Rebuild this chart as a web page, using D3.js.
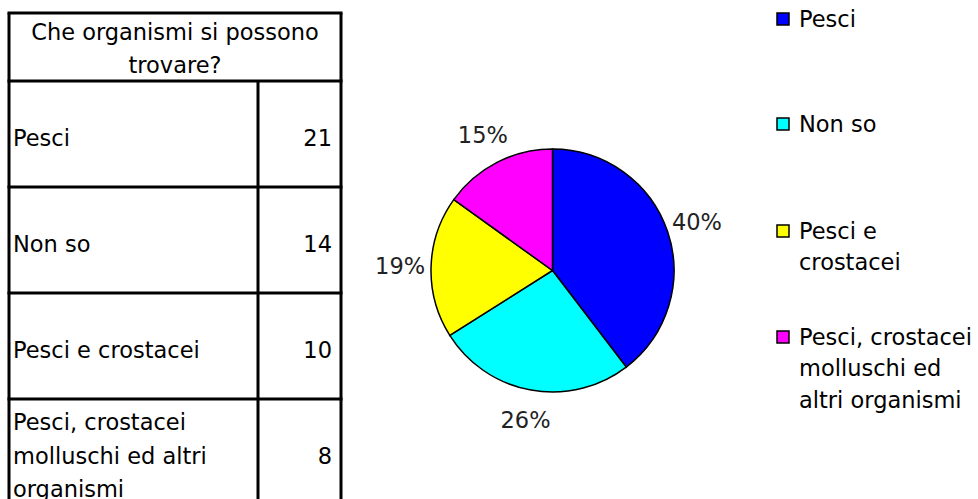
<!DOCTYPE html>
<html>
<head>
<meta charset="utf-8">
<script src="https://cdn.jsdelivr.net/npm/d3@7"></script>
<style>
  body { margin: 0; background: #fff; }
  svg text { font-family: "DejaVu Sans", sans-serif; fill: #000; }
</style>
</head>
<body>
<svg id="chart" width="978" height="499"></svg>
<script>
// data
const title = ["Che organismi si possono", "trovare?"];
const categories = ["Pesci", "Non so", "Pesci e crostacei", "Pesci, crostacei molluschi ed altri organismi"];
const values = [21, 14, 10, 8];
const colors = ["#0000ff", "#00ffff", "#ffff00", "#ff00ff"];
// how labels wrap in the table and in the legend
const tableLines = [["Pesci"], ["Non so"], ["Pesci e crostacei"], ["Pesci, crostacei", "molluschi ed altri", "organismi"]];
const legendLines = [["Pesci"], ["Non so"], ["Pesci e", "crostacei"], ["Pesci, crostacei", "molluschi ed", "altri organismi"]];

const svg = d3.select("#chart");
const fs = 22.5;

// ---- table ----
const tbl = svg.append("g");
const tx0 = 9, tx1 = 341, tdiv = 258, ty0 = 13, thead = 81, rowH = 106;

const rowY = d3.scaleBand().domain(categories).range([thead, thead + rowH * categories.length]);

// header text
tbl.selectAll("text.head").data(title).join("text")
  .attr("class", "head")
  .attr("x", (tx0 + tx1) / 2)
  .attr("y", (d, i) => 40 + i * 32.5)
  .attr("text-anchor", "middle")
  .style("font-size", fs + "px")
  .text(d => d);

// row text
categories.forEach((c, i) => {
  const lines = tableLines[i];
  const mid = rowY(c) + rowY.bandwidth() / 2 + 4;
  const lh = 33.5;
  const first = mid - (lines.length - 1) * lh / 2;
  tbl.selectAll(null).data(lines).join("text")
    .attr("x", 13)
    .attr("y", (d, j) => first + j * lh)
    .attr("dy", "0.35em")
    .style("font-size", fs + "px")
    .text(d => d);
  tbl.append("text")
    .attr("x", 332)
    .attr("y", mid)
    .attr("dy", "0.35em")
    .attr("text-anchor", "end")
    .style("font-size", fs + "px")
    .text(values[i]);
});

// grid lines
const lineStyle = sel => sel.attr("stroke", "#000").attr("stroke-width", 3);
const bottom = thead + rowH * categories.length;
tbl.append("line").attr("x1", tx0).attr("x2", tx0).attr("y1", ty0).attr("y2", bottom).call(lineStyle);
tbl.append("line").attr("x1", tx1).attr("x2", tx1).attr("y1", ty0).attr("y2", bottom).call(lineStyle);
tbl.append("line").attr("x1", tdiv).attr("x2", tdiv).attr("y1", thead).attr("y2", bottom).call(lineStyle);
tbl.append("line").attr("x1", tx0 - 1.5).attr("x2", tx1 + 1.5).attr("y1", ty0).attr("y2", ty0).call(lineStyle);
tbl.selectAll("line.row").data(categories).join("line")
  .attr("class", "row")
  .attr("x1", tx0 - 1.5).attr("x2", tx1 + 1.5)
  .attr("y1", d => rowY(d)).attr("y2", d => rowY(d))
  .call(lineStyle);

// ---- pie ----
const cx = 552.5, cy = 270.5, r = 121.5;
const pie = d3.pie().sort(null).value(d => d)(values);
const arc = d3.arc().innerRadius(0).outerRadius(r);
const total = d3.sum(values);

const pg = svg.append("g").attr("transform", `translate(${cx},${cy})`);
pg.selectAll("path").data(pie).join("path")
  .attr("d", arc)
  .attr("fill", (d, i) => colors[i])
  .attr("stroke", "#000")
  .attr("stroke-width", 1.5);

const labelArc = d3.arc().innerRadius(r + 31).outerRadius(r + 31);
pg.selectAll("text.pct").data(pie).join("text")
  .attr("class", "pct")
  .attr("transform", d => `translate(${labelArc.centroid(d)})`)
  .attr("text-anchor", "middle")
  .attr("dy", "0.35em")
  .style("font-size", fs + "px")
  .style("fill", "#222")
  .text(d => Math.round(d.value / total * 100) + "%");

// ---- legend ----
const legY = [19, 124, 231, 337];
const lg = svg.append("g");
categories.forEach((c, i) => {
  const g = lg.append("g").attr("transform", `translate(777,${legY[i]})`);
  g.append("rect").attr("x", 0).attr("y", -6).attr("width", 12).attr("height", 12)
    .attr("fill", colors[i]).attr("stroke", "#000").attr("stroke-width", 1.5);
  g.selectAll("text").data(legendLines[i]).join("text")
    .attr("x", 22)
    .attr("y", (d, j) => j * 31.5)
    .attr("dy", "0.35em")
    .style("font-size", fs + "px")
    .text(d => d);
});
</script>
</body>
</html>
